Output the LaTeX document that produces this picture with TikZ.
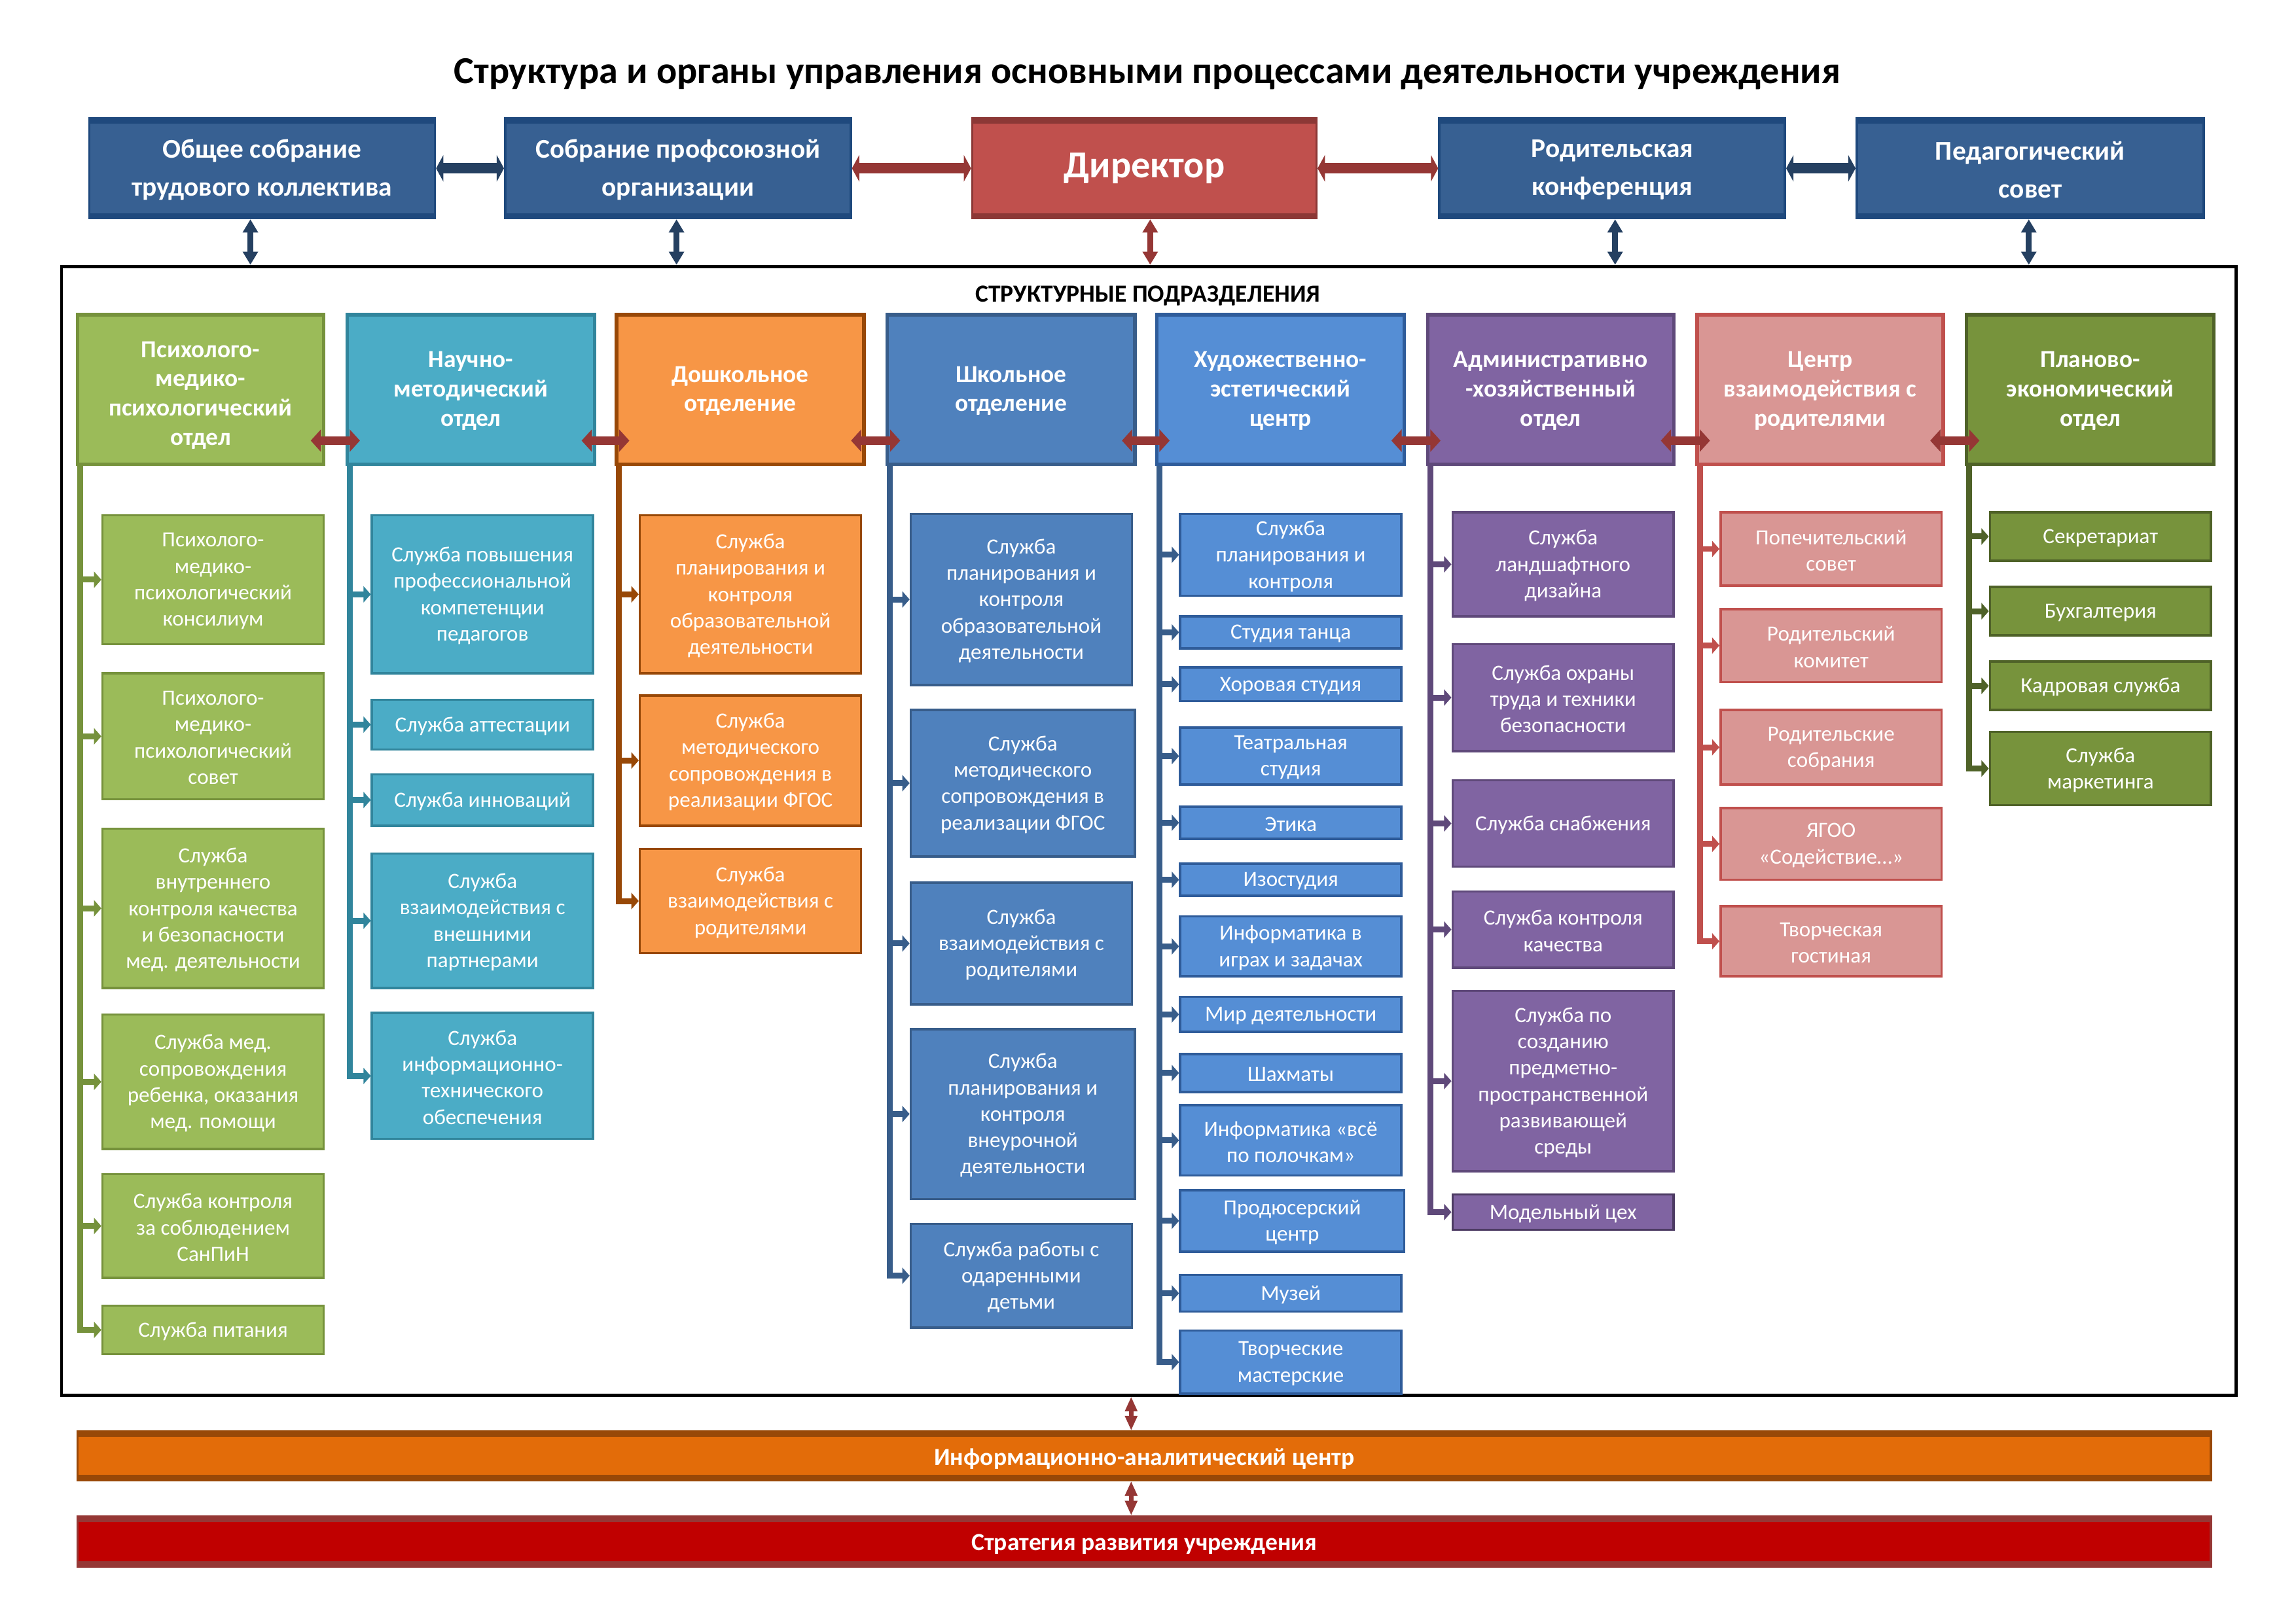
\documentclass[tikz,border=0pt]{standalone}
\usepackage{fontspec}
\setmainfont{Carlito}
\usetikzlibrary{arrows.meta}
\definecolor{topf}{HTML}{376092}
\definecolor{topd}{HTML}{1F497D}
\definecolor{dirf}{HTML}{C0504D}
\definecolor{dird}{HTML}{8C3836}
\definecolor{arrb}{HTML}{254061}
\definecolor{arrr}{HTML}{953735}
\definecolor{c1f}{HTML}{9BBB59}\definecolor{c1d}{HTML}{76923C}
\definecolor{c2f}{HTML}{4BACC6}\definecolor{c2d}{HTML}{31859C}
\definecolor{c3f}{HTML}{F79646}\definecolor{c3d}{HTML}{984807}
\definecolor{c4f}{HTML}{4F81BD}\definecolor{c4d}{HTML}{385D8A}
\definecolor{c5f}{HTML}{558ED5}\definecolor{c5d}{HTML}{2F5C9A}
\definecolor{c6f}{HTML}{8064A2}\definecolor{c6d}{HTML}{5F497A}
\definecolor{c7f}{HTML}{D99694}\definecolor{c7d}{HTML}{C0504D}
\definecolor{c8f}{HTML}{77933C}\definecolor{c8d}{HTML}{4F6228}
\definecolor{iacf}{HTML}{E36C09}\definecolor{iacd}{HTML}{984807}
\definecolor{strf}{HTML}{C00000}\definecolor{strd}{HTML}{953735}
\newcommand\subfont{\fontsize{14.8}{18}\selectfont}
\newcommand\headfont{\fontsize{16.75}{20}\selectfont\bfseries}
% \bx[text shift]{name}{style}{x1}{y1}{x2}{y2}{text}
\newcommand\bx[8][1]{%
 \pgfmathsetmacro\bxw{#6-#4}%
 \pgfmathsetmacro\bxh{#7-#5}%
 \pgfmathsetmacro\bxx{(#4+#6)/2}%
 \pgfmathsetmacro\bxy{(#5+#7)/2}%
 \pgfmathsetmacro\bxt{(#5+#7)/2+#1}%
 \node[#3, minimum width=\bxw pt, minimum height=\bxh pt] (#2) at (\bxx,\bxy) {};
 \node[#3, draw=none, fill=none, path picture={}] (#2-t) at (\bxx,\bxt) {#8};}
\newcommand\tree[3]{\foreach \cname in {#3}{\draw[branch=#2] ([xshift=3pt]#1.south west) |- (\cname.west);}}
\tikzset{
 col/.style 2 args={fill=#1, draw=#2},
 box/.style={rectangle, line width=1.6pt, text=white, align=center, inner sep=1pt},
 head/.style={box, font=\headfont, line width=2.4pt},
 sub/.style={box, font=\subfont},
 bands/.style={path picture={
   \fill[#1] (path picture bounding box.north west) rectangle ([yshift=-3.5pt]path picture bounding box.north east);
   \fill[#1] (path picture bounding box.south west) rectangle ([yshift=3.5pt]path picture bounding box.south east);}},
 topbox/.style={box, fill=topf, draw=topd, bands=topd, font=\fontsize{18.5}{26}\selectfont\bfseries},
 dirbox/.style={box, fill=dirf, draw=dird, bands=dird, font=\fontsize{26}{30}\selectfont\bfseries},
 bar/.style 2 args={box, fill=#1, draw=#2, bands=#2, font=\fontsize{16.8}{19}\selectfont\bfseries},
 framebox/.style={rectangle, draw=black, line width=2.2pt, inner sep=0pt},
 branch/.style={draw=#1, line width=4pt, line join=miter, -{Triangle[length=5pt,width=11pt]}},
 harrow/.style={draw=arrr, line width=6pt, {Triangle[length=7pt,width=15pt]}-{Triangle[length=7pt,width=15pt]}},
 tarrow/.style={draw=#1, line width=7pt, {Triangle[length=5pt,width=18pt]}-{Triangle[length=5pt,width=18pt]}},
 varrow/.style={draw=#1, line width=4pt, {Triangle[length=9pt,width=10pt]}-{Triangle[length=9pt,width=10pt]}},
 barrow/.style={draw=arrr, line width=3pt, {Triangle[length=10pt,width=8pt]}-{Triangle[length=10pt,width=8pt]}},
}
\begin{document}
\begin{tikzpicture}[x=1pt,y=-1pt]
\useasboundingbox[fill=white] (0,0) rectangle (1568,1109);
% title
\node[font=\fontsize{26}{30}\selectfont\bfseries] (title) at (783.5,50.5) {Структура и органы управления основными процессами деятельности учреждения};
% frame
\bx[0]{frame}{framebox}{42}{182}{1527}{953}{}
\node[font=\fontsize{16.8}{19}\selectfont\bfseries] (sp) at (784,202) {СТРУКТУРНЫЕ ПОДРАЗДЕЛЕНИЯ};
% top row
\bx{ts}{topbox}{61}{81}{297}{149}{Общее собрание\\трудового коллектива}
\bx{tp}{topbox}{345}{81}{581}{149}{Собрание профсоюзной\\организации}
\bx[0]{dir}{dirbox}{664}{81}{899}{149}{Директор}
\bx{trk}{topbox}{983}{81}{1219}{149}{Родительская\\конференция}
\bx{tps}{topbox}{1268}{81}{1505}{149}{Педагогический\\совет}
\draw[tarrow=arrb] (ts.east) -- (tp.west);
\draw[tarrow=arrr] (tp.east) -- (dir.west);
\draw[tarrow=arrr] (dir.east) -- (trk.west);
\draw[tarrow=arrb] (trk.east) -- (tps.west);
\draw[varrow=arrb] ([xshift=-8pt]ts.south) -- ([xshift=-8pt]ts.south |- frame.north);
\draw[varrow=arrb] ([xshift=-1pt]tp.south) -- ([xshift=-1pt]tp.south |- frame.north);
\draw[varrow=arrr] ([xshift=4pt]dir.south) -- ([xshift=4pt]dir.south |- frame.north);
\draw[varrow=arrb] ([xshift=2pt]trk.south) -- ([xshift=2pt]trk.south |- frame.north);
\draw[varrow=arrb] ([xshift=-1pt]tps.south) -- ([xshift=-1pt]tps.south |- frame.north);
% headers
\bx[4]{h1}{head, col={c1f}{c1d}}{53}{215}{221}{317}{Психолого-\\медико-\\психологический\\отдел}
\bx{h2}{head, col={c2f}{c2d}}{237}{215}{406}{317}{Научно-\\методический\\отдел}
\bx{h3}{head, col={c3f}{c3d}}{421}{215}{590}{317}{Дошкольное\\отделение}
\bx{h4}{head, col={c4f}{c4d}}{606}{215}{775}{317}{Школьное\\отделение}
\bx{h5}{head, col={c5f}{c5d}}{790}{215}{959}{317}{Художественно-\\эстетический\\центр}
\bx{h6}{head, col={c6f}{c6d}}{975}{215}{1143}{317}{Административно\\-хозяйственный\\отдел}
\bx{h7}{head, col={c7f}{c7d}}{1159}{215}{1327}{317}{Центр\\взаимодействия с\\родителями}
\bx{h8}{head, col={c8f}{c8d}}{1343}{215}{1512}{317}{Планово-\\экономический\\отдел}
% column 1
\bx{c1a}{sub, col={c1f}{c1d}}{70}{352}{221}{440}{Психолого-\\медико-\\психологический\\консилиум}
\bx{c1b}{sub, col={c1f}{c1d}}{70}{460}{221}{546}{Психолого-\\медико-\\психологический\\совет}
\bx{c1c}{sub, col={c1f}{c1d}}{70}{566}{221}{675}{Служба\\внутреннего\\контроля качества\\и безопасности\\мед. деятельности}
\bx{c1d}{sub, col={c1f}{c1d}}{70}{693}{221}{785}{Служба мед.\\сопровождения\\ребенка, оказания\\мед. помощи}
\bx{c1e}{sub, col={c1f}{c1d}}{70}{802}{221}{873}{Служба контроля\\за соблюдением\\СанПиН}
\bx{c1g}{sub, col={c1f}{c1d}}{70}{892}{221}{925}{Служба питания}
% column 2
\bx{c2a}{sub, col={c2f}{c2d}}{254}{352}{405}{460}{Служба повышения\\профессиональной\\компетенции\\педагогов}
\bx{c2b}{sub, col={c2f}{c2d}}{254}{478}{405}{512}{Служба аттестации}
\bx{c2c}{sub, col={c2f}{c2d}}{254}{529}{405}{564}{Служба инноваций}
\bx{c2d}{sub, col={c2f}{c2d}}{254}{583}{405}{675}{Служба\\взаимодействия с\\внешними\\партнерами}
\bx{c2e}{sub, col={c2f}{c2d}}{254}{692}{405}{778}{Служба\\информационно-\\технического\\обеспечения}
% column 3
\bx{c3a}{sub, col={c3f}{c3d}}{437}{352}{588}{460}{Служба\\планирования и\\контроля\\образовательной\\деятельности}
\bx{c3b}{sub, col={c3f}{c3d}}{437}{475}{588}{564}{Служба\\методического\\сопровождения в\\реализации ФГОС}
\bx{c3c}{sub, col={c3f}{c3d}}{437}{580}{588}{651}{Служба\\взаимодействия с\\родителями}
% column 4
\bx{c4a}{sub, col={c4f}{c4d}}{622}{351}{773}{468}{Служба\\планирования и\\контроля\\образовательной\\деятельности}
\bx{c4b}{sub, col={c4f}{c4d}}{622}{485}{775}{585}{Служба\\методического\\сопровождения в\\реализации ФГОС}
\bx{c4c}{sub, col={c4f}{c4d}}{622}{603}{773}{686}{Служба\\взаимодействия с\\родителями}
\bx{c4d}{sub, col={c4f}{c4d}}{622}{703}{775}{819}{Служба\\планирования и\\контроля\\внеурочной\\деятельности}
\bx{c4e}{sub, col={c4f}{c4d}}{622}{836}{773}{907}{Служба работы с\\одаренными\\детьми}
% column 5
\bx{c5a}{sub, col={c5f}{c5d}}{806}{351}{957}{407}{Служба\\планирования и\\контроля}
\bx{c5b}{sub, col={c5f}{c5d}}{806}{421}{957}{443}{Студия танца}
\bx{c5c}{sub, col={c5f}{c5d}}{806}{456}{957}{479}{Хоровая студия}
\bx{c5d}{sub, col={c5f}{c5d}}{806}{497}{957}{536}{Театральная\\студия}
\bx{c5e}{sub, col={c5f}{c5d}}{806}{551}{957}{573}{Этика}
\bx{c5f}{sub, col={c5f}{c5d}}{806}{590}{957}{612}{Изостудия}
\bx{c5g}{sub, col={c5f}{c5d}}{806}{626}{957}{667}{Информатика в\\играх и задачах}
\bx{c5h}{sub, col={c5f}{c5d}}{806}{681}{957}{705}{Мир деятельности}
\bx{c5i}{sub, col={c5f}{c5d}}{806}{720}{957}{746}{Шахматы}
\bx{c5j}{sub, col={c5f}{c5d}}{806}{755}{957}{803}{Информатика «всё\\по полочкам»}
\bx{c5k}{sub, col={c5f}{c5d}}{806}{813}{959}{855}{Продюсерский\\центр}
\bx{c5l}{sub, col={c5f}{c5d}}{806}{871}{957}{896}{Музей}
\bx{c5m}{sub, col={c5f}{c5d}}{806}{909}{957}{952}{Творческие\\мастерские}
% column 6
\bx{c6a}{sub, col={c6f}{c6d}}{992}{350}{1143}{421}{Служба\\ландшафтного\\дизайна}
\bx{c6b}{sub, col={c6f}{c6d}}{992}{440}{1143}{513}{Служба охраны\\труда и техники\\безопасности}
\bx{c6c}{sub, col={c6f}{c6d}}{992}{533}{1143}{592}{Служба снабжения}
\bx{c6d}{sub, col={c6f}{c6d}}{992}{609}{1143}{661}{Служба контроля\\качества}
\bx{c6e}{sub, col={c6f}{c6d}}{992}{677}{1143}{800}{Служба по\\созданию\\предметно-\\пространственной\\развивающей\\среды}
\bx{c6g}{sub, col={c6f}{c6d!80!black}}{992}{816}{1143}{840}{Модельный цех}
% column 7
\bx{c7a}{sub, col={c7f}{c7d}}{1175}{350}{1326}{400}{Попечительский\\совет}
\bx{c7b}{sub, col={c7f}{c7d}}{1175}{416}{1326}{466}{Родительский\\комитет}
\bx{c7c}{sub, col={c7f}{c7d}}{1175}{485}{1326}{536}{Родительские\\собрания}
\bx{c7d}{sub, col={c7f}{c7d}}{1175}{552}{1326}{601}{ЯГОО\\«Содействие…»}
\bx{c7e}{sub, col={c7f}{c7d}}{1175}{619}{1326}{667}{Творческая\\гостиная}
% column 8
\bx{c8a}{sub, col={c8f}{c8d}}{1359}{350}{1510}{383}{Секретариат}
\bx{c8b}{sub, col={c8f}{c8d}}{1359}{401}{1510}{434}{Бухгалтерия}
\bx{c8c}{sub, col={c8f}{c8d}}{1359}{452}{1510}{485}{Кадровая служба}
\bx{c8d}{sub, col={c8f}{c8d}}{1359}{500}{1510}{550}{Служба\\маркетинга}
% trees
\tree{h1}{c1d}{c1a,c1b,c1c,c1d,c1e,c1g}
\tree{h2}{c2d}{c2a,c2b,c2c,c2d,c2e}
\tree{h3}{c3d}{c3a,c3b,c3c}
\tree{h4}{c4d}{c4a,c4b,c4c,c4d,c4e}
\tree{h5}{c4d}{c5a,c5b,c5c,c5d,c5e,c5f,c5g,c5h,c5i,c5j,c5k,c5l,c5m}
\tree{h6}{c6d}{c6a,c6b,c6c,c6d,c6e,c6g}
\tree{h7}{c7d}{c7a,c7b,c7c,c7d,c7e}
\tree{h8}{c8d}{c8a,c8b,c8c,c8d}
% header arrows
\foreach \ha/\hb in {h1/h2,h2/h3,h3/h4,h4/h5,h5/h6,h6/h7,h7/h8}
  \draw[harrow] ([shift={(-10pt,-35pt)}]\ha.east) -- ([shift={(10pt,-35pt)}]\hb.west);
% bottom bars
\bx[2]{iac}{bar={iacf}{iacd}}{53}{978}{1510}{1011}{Информационно-аналитический центр}
\bx[2]{str}{bar={strf}{strd}}{53}{1036}{1510}{1070}{Стратегия развития учреждения}
\draw[barrow] ([xshift=-9pt]iac.north) -- ([xshift=-9pt]iac.north |- frame.south);
\draw[barrow] ([xshift=-9pt]str.north) -- ([xshift=-9pt]iac.south);
\end{tikzpicture}
\end{document}
